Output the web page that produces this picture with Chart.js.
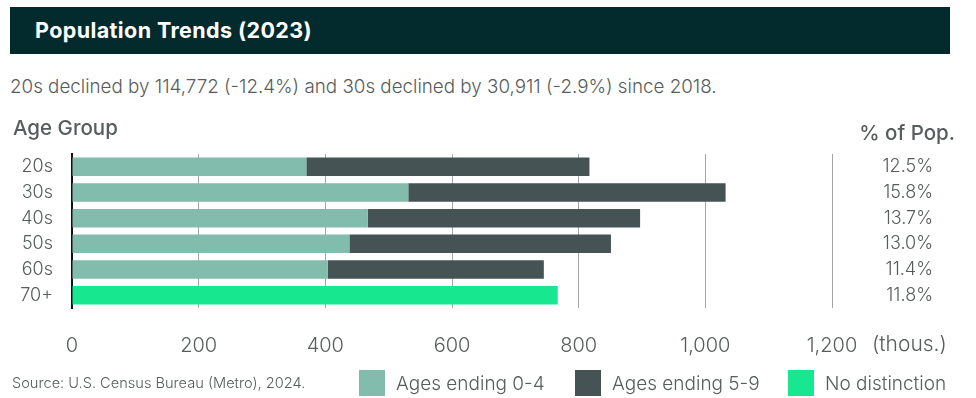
<!DOCTYPE html>
<html lang="en">
<head>
    <meta charset="UTF-8">
    <title>Population Trends (2023)</title>
    <script src="https://cdn.jsdelivr.net/npm/chart.js@4.4.0/dist/chart.umd.min.js"></script>
    <style>
        body { margin: 0; width: 976px; height: 398px; position: relative; background: #fff; overflow: hidden;
               font-family: "Inter", "Noto Sans", sans-serif; color: #575c5c; }
        #titlebar { position: absolute; left: 10px; top: 7px; width: 940px; height: 47px; background: #032b2d; }
        #titlebar span { position: absolute; left: 25px; top: 10px; font-size: 21.5px; font-weight: 700; color: #fff; letter-spacing: 0.4px; }
        #subtitle { position: absolute; left: 10px; top: 75px; font-size: 18.8px; font-weight: 300; white-space: nowrap; }
        #chart { position: absolute; left: 0; top: 0; }
        #source { position: absolute; left: 12px; top: 374px; font-size: 14.6px; font-weight: 300; white-space: nowrap; }
        .item { position: absolute; top: 370px; height: 26px; display: flex; align-items: center; white-space: nowrap;
                font-size: 19px; font-weight: 300; }
        .item i { display: inline-block; width: 26px; height: 26px; margin-right: 11px; }
    </style>
</head>
<body>
    <div id="titlebar"><span>Population Trends (2023)</span></div>
    <div id="subtitle">20s declined by 114,772 (-12.4%) and 30s declined by 30,911 (-2.9%) since 2018.</div>
    <canvas id="chart" width="976" height="398"></canvas>
    <div id="source">Source: U.S. Census Bureau (Metro), 2024.</div>
    <div id="legend"></div>
    <script>

const ageGroups = ['20s', '30s', '40s', '50s', '60s', '70+'];
// thousands of people
const endingZeroToFour = [370, 531, 467, 438, 404, null];
const endingFiveToNine = [447, 501, 430, 413, 341, null];
const noDistinction = [null, null, null, null, null, 767];
const shareOfPop = ['12.5%', '15.8%', '13.7%', '13.0%', '11.4%', '11.8%'];
const xTicks = [0, 200, 400, 600, 800, 1000, 1200];

const textColor = '#575c5c';
const lightFont = '"Inter", "Noto Sans", sans-serif';
const legendLeft = [359, 575, 788];

// headers, the % column and the unit label
const sideText = {
    id: 'sideText',
    afterDraw(chart) {
        const ctx = chart.ctx;
        const y = chart.scales.y;
        const x = chart.scales.x;
        ctx.save();
        ctx.fillStyle = textColor;
        ctx.textBaseline = 'middle';

        ctx.font = '500 20.5px ' + lightFont;
        ctx.textAlign = 'left';
        ctx.fillText('Age Group', 13, 129);
        ctx.textAlign = 'right';
        ctx.fillText('% of Pop.', 955, 134);

        ctx.font = '300 18px ' + lightFont;
        ctx.textAlign = 'right';
        shareOfPop.forEach((p, i) => {
            ctx.fillText(p, 933, y.getPixelForValue(i));
        });

        ctx.font = '300 21px ' + lightFont;
        ctx.textAlign = 'left';
        ctx.fillText('(thous.)', 872, x.bottom - 23);
        ctx.restore();
    }
};

const ctx = document.getElementById('chart').getContext('2d');
const chart = new Chart(ctx, {
    type: 'bar',
    data: {
        labels: ageGroups,
        datasets: [
            { label: 'Ages ending 0-4', data: endingZeroToFour, backgroundColor: '#82bcac' },
            { label: 'Ages ending 5-9', data: endingFiveToNine, backgroundColor: '#455355' },
            { label: 'No distinction', data: noDistinction, backgroundColor: '#17e78f' }
        ]
    },
    options: {
        indexAxis: 'y',
        responsive: false,
        animation: false,
        layout: { padding: { top: 154, right: 144, bottom: 30, left: 0 } },
        datasets: { bar: { barPercentage: 0.72, categoryPercentage: 1 } },
        plugins: { legend: { display: false }, tooltip: { enabled: false } },
        scales: {
            x: {
                stacked: true,
                min: 0,
                max: 1200,
                afterBuildTicks(scale) { scale.ticks = xTicks.map(v => ({ value: v })); },
                afterFit(scale) { scale.height = 60; },
                grid: { color: '#a2a6a6', lineWidth: 1, drawTicks: false },
                border: { display: false },
                ticks: {
                    padding: 26,
                    color: textColor,
                    font: { family: lightFont, size: 20, weight: 300 },
                    callback: v => v.toLocaleString('en-US')
                }
            },
            y: {
                stacked: true,
                afterFit(scale) { scale.width = 72; },
                grid: { display: false, drawTicks: false },
                border: { display: true, color: '#111', width: 2 },
                ticks: {
                    padding: 19,
                    color: textColor,
                    font: { family: lightFont, size: 18, weight: 300 }
                }
            }
        }
    },
    plugins: [sideText]
});

// legend built from the datasets
const legend = document.getElementById('legend');
chart.data.datasets.forEach((ds, i) => {
    const item = document.createElement('div');
    item.className = 'item';
    item.style.left = legendLeft[i] + 'px';
    item.innerHTML = '<i style="background:' + ds.backgroundColor + '"></i>' + ds.label;
    legend.appendChild(item);
});
    </script>
</body>
</html>
